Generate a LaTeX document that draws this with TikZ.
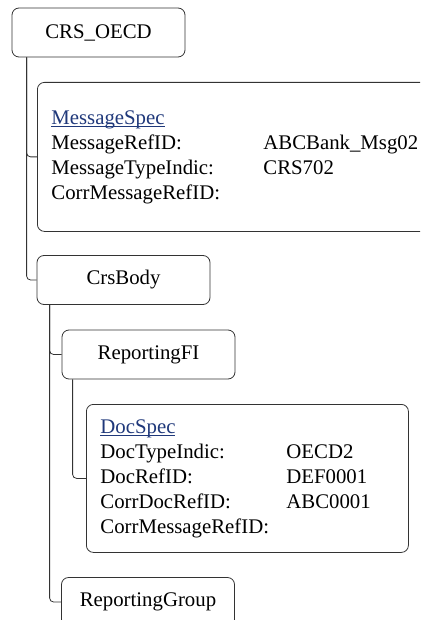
\documentclass[tikz,border=0pt]{standalone}
\usepackage{fontspec}
\setmainfont{Liberation Serif}
\usepackage{array}
\usetikzlibrary{calc,positioning}
\definecolor{linkblue}{RGB}{31,56,122}
\newcommand{\lnk}[1]{\textcolor{linkblue}{\setbox0=\hbox{#1}\rlap{\rule[-2.2pt]{\wd0}{0.9pt}}\box0}}

\begin{document}
\begin{tikzpicture}[x=1pt, y=-1pt, font=\fontsize{20.8}{25}\selectfont, conn/.style={draw=black!80, line width=0.8pt, rounded corners=4pt}]
\tikzstyle{box}=[draw=black!80, line width=0.8pt, rounded corners=7pt, minimum width=173pt, minimum height=49pt, inner sep=0pt]
\tikzstyle{spec}=[box, anchor=north west, align=left, inner xsep=14pt]
\useasboundingbox (0,0) rectangle (420,620);
\clip (0,0) rectangle (420,620);
\node[box] (oecd) at (98.5,32.5) {CRS\_OECD};
\node[spec, text width=372pt, minimum height=149pt] (msg) at (37,82) {%
\begin{tabular}{@{}p{212pt}@{}l@{}}
\lnk{MessageSpec} & \\
MessageRefID: & ABCBank\_Msg02\\
MessageTypeIndic: & CRS702\\
CorrMessageRefID: &
\end{tabular}};
\node[box] (body) at (123.5,280) {CrsBody};
\node[box] (rfi) at (148.5,354.5) {ReportingFI};
\node[spec, text width=294pt, minimum height=148pt] (doc) at (86,404) {%
\begin{tabular}{@{}p{186pt}@{}l@{}}
\lnk{DocSpec} & \\
DocTypeIndic: & OECD2\\
DocRefID: & DEF0001\\
CorrDocRefID: & ABC0001\\
CorrMessageRefID: &
\end{tabular}};
\node[box] (rgrp) at (148,602) {ReportingGroup};
\foreach \i/\j/\k in {oecd/msg/15,oecd/body/15,body/rfi/13,body/rgrp/13,rfi/doc/11}{\draw[conn] ([xshift=\k pt]\i.south west) |- (\j.west);}
\end{tikzpicture}
\end{document}
